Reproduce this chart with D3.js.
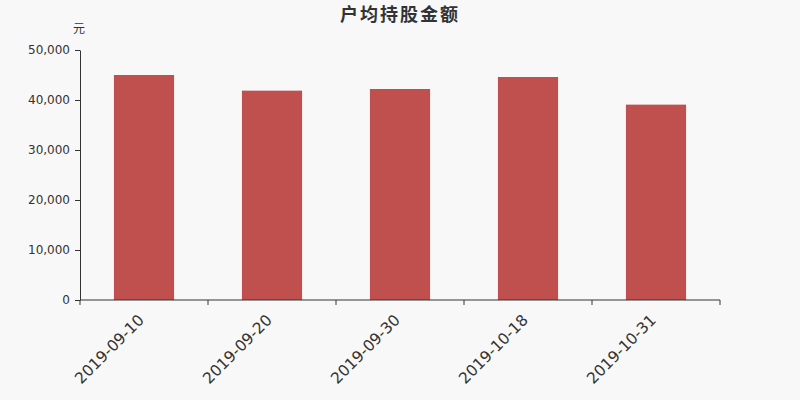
<!DOCTYPE html>
<html>
<head>
<meta charset="utf-8">
<script src="https://cdn.jsdelivr.net/npm/d3@7"></script>
<style>
  body { margin: 0; background: #f8f8f8; }
  svg text { font-family: 'DejaVu Sans', 'Noto Sans CJK SC', sans-serif; }
</style>
</head>
<body>
<div id="chart"></div>
<script>
const dates = ['2019-09-10', '2019-09-20', '2019-09-30', '2019-10-18', '2019-10-31']
const values = [45000, 41870, 42200, 44600, 39070]
const yTicks = [0, 10000, 20000, 30000, 40000, 50000]

const width = 800
const height = 400
const margin = { top: 50, right: 80, bottom: 100, left: 80 }
const font = "'DejaVu Sans', 'Noto Sans CJK SC', sans-serif"

const svg = d3.select('#chart').append('svg').attr('width', width).attr('height', height)
svg.append('rect').attr('width', width).attr('height', height).attr('fill', '#f8f8f8')

const x = d3.scaleBand().domain(dates).range([margin.left, width - margin.right]).paddingInner(0).paddingOuter(0)
const y = d3.scaleLinear().domain([0, 50000]).range([height - margin.bottom, margin.top])

const barW = x.bandwidth() * 0.47

svg.append('g')
  .selectAll('rect')
  .data(dates)
  .join('rect')
  .attr('x', (d) => x(d) + (x.bandwidth() - barW) / 2)
  .attr('width', barW)
  .attr('y', (d, i) => y(values[i]))
  .attr('height', (d, i) => y(0) - y(values[i]))
  .attr('fill', '#c0504d')

// y axis
const yAxis = svg.append('g')
  .attr('transform', `translate(${margin.left},0)`)
  .call(d3.axisLeft(y).tickValues(yTicks).tickFormat(d3.format(',')).tickSize(5).tickSizeOuter(0))
yAxis.select('.domain').attr('stroke', '#333')
yAxis.selectAll('.tick line').attr('stroke', '#333')
yAxis.selectAll('text')
  .attr('fill', '#333')
  .attr('font-size', 12)
  .attr('font-family', font)
  .attr('dx', '-2')

// x axis
const ticks = dates.map((d) => x(d)).concat([x.range()[1]])
const xg = svg.append('g').attr('transform', `translate(0,${y(0)})`)
xg.append('line').attr('x1', x.range()[0]).attr('x2', x.range()[1]).attr('stroke', '#333')
xg.selectAll('line.t')
  .data(ticks)
  .join('line')
  .attr('class', 't')
  .attr('x1', (d) => d).attr('x2', (d) => d)
  .attr('y1', 0).attr('y2', 5)
  .attr('stroke', '#333')
xg.selectAll('text')
  .data(dates)
  .join('text')
  .attr('transform', (d) => `translate(${x(d) + x.bandwidth() / 2 + 1},21) rotate(-45)`)
  .attr('text-anchor', 'end')
  .attr('font-size', 15.5)
  .attr('font-family', font)
  .attr('fill', '#333')
  .text((d) => d)

svg.append('text')
  .attr('x', 400).attr('y', 21)
  .attr('text-anchor', 'middle')
  .attr('font-size', 18)
  .attr('font-weight', 'bold')
  .attr('font-family', font)
  .attr('fill', '#333')
  .attr('letter-spacing', 2)
  .text('户均持股金额')

svg.append('text')
  .attr('x', 79).attr('y', 33)
  .attr('text-anchor', 'middle')
  .attr('font-size', 12)
  .attr('font-family', font)
  .attr('fill', '#333')
  .text('元')
</script>
</body>
</html>
